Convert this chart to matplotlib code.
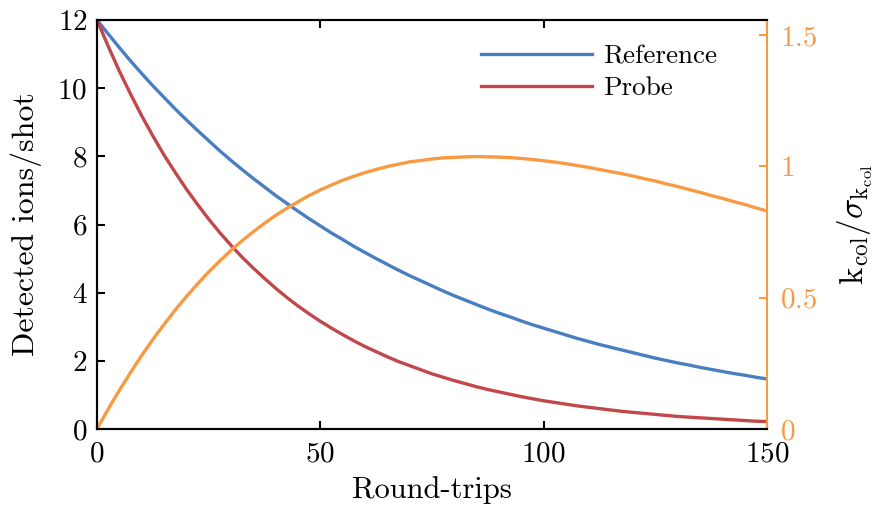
import matplotlib
matplotlib.use("Agg")
import matplotlib.pyplot as plt

plt.rcParams["font.family"] = "serif"
plt.rcParams["font.serif"] = ["cmr10"]
plt.rcParams["mathtext.fontset"] = "cm"
plt.rcParams["axes.formatter.use_mathtext"] = True
plt.rcParams["axes.unicode_minus"] = False

# round trips sampled every 2.5
trips = [0, 2.5, 5, 7.5, 10, 12.5, 15, 17.5, 20, 22.5, 25, 27.5, 30, 32.5, 35, 37.5,
         40, 42.5, 45, 47.5, 50, 52.5, 55, 57.5, 60, 62.5, 65, 67.5, 70, 72.5, 75, 77.5,
         80, 82.5, 85, 87.5, 90, 92.5, 95, 97.5, 100, 102.5, 105, 107.5, 110, 112.5,
         115, 117.5, 120, 122.5, 125, 127.5, 130, 132.5, 135, 137.5, 140, 142.5, 145,
         147.5, 150]

reference = [12.00, 11.59, 11.19, 10.80, 10.43, 10.07, 9.73, 9.39, 9.07, 8.76, 8.46,
             8.16, 7.88, 7.61, 7.35, 7.10, 6.85, 6.62, 6.39, 6.17, 5.96, 5.75, 5.56,
             5.36, 5.18, 5.00, 4.83, 4.66, 4.50, 4.35, 4.20, 4.05, 3.91, 3.78, 3.65,
             3.52, 3.40, 3.29, 3.17, 3.06, 2.96, 2.86, 2.76, 2.66, 2.57, 2.48, 2.40,
             2.32, 2.24, 2.16, 2.08, 2.01, 1.94, 1.88, 1.81, 1.75, 1.69, 1.63, 1.58,
             1.52, 1.47]

probe = [12.00, 11.23, 10.50, 9.83, 9.19, 8.60, 8.04, 7.53, 7.04, 6.59, 6.16,
         5.76, 5.39, 5.04, 4.72, 4.42, 4.13, 3.86, 3.61, 3.38, 3.16, 2.96, 2.77,
         2.59, 2.42, 2.27, 2.12, 1.98, 1.86, 1.74, 1.62, 1.52, 1.42, 1.33, 1.24,
         1.16, 1.09, 1.02, 0.95, 0.89, 0.83, 0.78, 0.73, 0.68, 0.64, 0.60, 0.56,
         0.52, 0.49, 0.46, 0.43, 0.40, 0.37, 0.35, 0.33, 0.31, 0.29, 0.27, 0.25,
         0.23, 0.22]

snr = [0.0, 0.076, 0.147, 0.215, 0.280, 0.341, 0.398, 0.453, 0.504, 0.552, 0.598,
       0.640, 0.680, 0.717, 0.751, 0.783, 0.813, 0.840, 0.865, 0.889, 0.910, 0.929,
       0.947, 0.962, 0.976, 0.988, 0.999, 1.008, 1.017, 1.022, 1.028, 1.032, 1.034,
       1.036, 1.037, 1.036, 1.035, 1.033, 1.030, 1.026, 1.021, 1.016, 1.010, 1.003,
       0.996, 0.988, 0.980, 0.972, 0.963, 0.953, 0.944, 0.933, 0.923, 0.912, 0.901,
       0.889, 0.878, 0.866, 0.855, 0.842, 0.830]

blue = "#4a7ec2"
red = "#c1484a"
orange = "#f89a43"

fig = plt.figure(figsize=(8.74, 5.12), dpi=100)
ax = fig.add_axes([0.111, 0.162, 0.7665, 0.799])
ax2 = ax.twinx()

ax.plot(trips, reference, color=blue, lw=2.4, label="Reference")
ax.plot(trips, probe, color=red, lw=2.4, label="Probe")
ax2.plot(trips, snr, color=orange, lw=2.4)

ax.set_xlim(0, 150)
ax.set_ylim(0, 12)
ax.set_xticks([0, 50, 100, 150])
ax.set_yticks([0, 2, 4, 6, 8, 10, 12])
ax2.set_ylim(0, 1.557)
ax2.set_yticks([0, 0.5, 1, 1.5])
ax2.set_yticklabels(["0", "0.5", "1", "1.5"])

ax.tick_params(direction="in", length=6, width=1.5, labelsize=21, top=True, right=False)
ax.tick_params(axis="x", pad=9)
ax.tick_params(axis="y", pad=7)
ax2.tick_params(direction="in", length=6, width=1.5, labelsize=21, colors=orange, pad=10)
for s in ax.spines.values():
    s.set_linewidth(1.5)
for s in ax2.spines.values():
    s.set_linewidth(1.5)
ax2.spines["right"].set_color(orange)
ax.spines["right"].set_visible(False)

ax.set_xlabel("Round-trips", fontsize=22, labelpad=6)
ax.set_ylabel("Detected ions/shot", fontsize=23, labelpad=11)
ax2.set_ylabel(r"$\mathrm{k_{col}}/\sigma_{\mathrm{k_{col}}}$", fontsize=24, labelpad=12)

ax.legend(loc="upper right", frameon=False, fontsize=19.5, handlelength=4.1,
          handletextpad=0.4, labelspacing=0.3, borderaxespad=0.5,
          bbox_to_anchor=(0.962, 1.0))

fig.savefig("out.png", dpi=100)
